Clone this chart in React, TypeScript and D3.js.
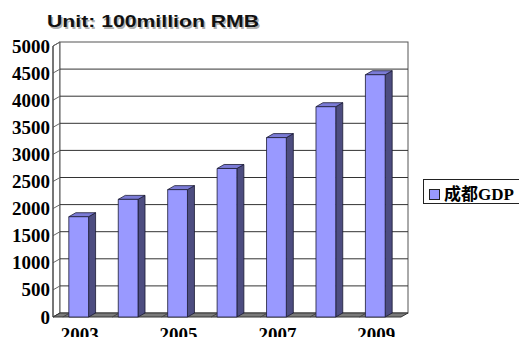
import React from "react";
import * as d3 from "d3";

const years = ["2003", "2004", "2005", "2006", "2007", "2008", "2009"];
const gdp = [1850, 2170, 2350, 2740, 3310, 3880, 4470];
const yTicks = [0, 500, 1000, 1500, 2000, 2500, 3000, 3500, 4000, 4500, 5000];
const shownYears = ["2003", "2005", "2007", "2009"];
const title = "Unit: 100million RMB";
const seriesName = "成都GDP";

const W = 519, H = 337;
const DX = 7, DY = 4;
const x0 = 53, x1 = 401;
const yBottom = 317, yTop = 46;

export default function App() {
  const x = d3.scaleBand<string>().domain(years).range([x0, x1]).paddingInner(0.6).paddingOuter(0.32);
  const y = d3.scaleLinear().domain([0, 5000]).range([yBottom, yTop]);
  const bw = x.bandwidth();
  const serif = "'Liberation Serif', 'Times New Roman', serif";

  return (
    <svg width={W} height={H} style={{ position: "absolute", left: 0, top: 0, background: "#fff" }}>
      {/* title */}
      <text x={48.5} y={28.5} fontFamily="'Liberation Sans', Arial, sans-serif" fontWeight="bold" fontSize={16.5} fill="#b0b0b0" textLength={212} lengthAdjust="spacingAndGlyphs">{title}</text>
      <text x={47} y={27} fontFamily="'Liberation Sans', Arial, sans-serif" fontWeight="bold" fontSize={16.5} fill="#111" textLength={212} lengthAdjust="spacingAndGlyphs">{title}</text>

      {/* left wall */}
      <polygon points={`${x0},${y(5000)} ${x0 + DX},${y(5000) - DY} ${x0 + DX},${yBottom - DY} ${x0},${yBottom}`} fill="#fff" stroke="#555" strokeWidth={1} />
      {/* back wall */}
      <rect x={x0 + DX} y={y(5000) - DY} width={x1 - x0} height={yBottom - y(5000)} fill="#fff" stroke="#555" strokeWidth={1} />
      {/* gridlines + wall ticks */}
      {yTicks.map((t) => (
        <g key={t}>
          {t > 0 && t < 5000 && (
            <line x1={x0 + DX} x2={x1 + DX} y1={y(t) - DY} y2={y(t) - DY} stroke="#333" strokeWidth={1} />
          )}
          <line x1={x0} x2={x0 + DX} y1={y(t)} y2={y(t) - DY} stroke="#666" strokeWidth={1} />
        </g>
      ))}
      {/* floor */}
      <polygon points={`${x0},${yBottom} ${x0 + DX},${yBottom - DY} ${x1 + DX},${yBottom - DY} ${x1},${yBottom}`} fill="#7a7a7a" stroke="#333" strokeWidth={1} />
      {years.map((yr) => (
        <line key={"ft" + yr} x1={(x(yr) as number) - 6} x2={(x(yr) as number) - 6 + DX} y1={yBottom} y2={yBottom - DY} stroke="#444" strokeWidth={1} />
      ))}
      <line x1={x0} x2={x0} y1={y(5000)} y2={yBottom} stroke="#444" strokeWidth={1} />

      {/* bars */}
      {years.map((yr, i) => {
        const bx = x(yr) as number;
        const top = y(gdp[i]);
        return (
          <g key={yr} stroke="#1a1a33" strokeWidth={0.8} strokeLinejoin="round">
            <polygon points={`${bx + bw},${top} ${bx + bw + DX},${top - DY} ${bx + bw + DX},${yBottom - DY} ${bx + bw},${yBottom}`} fill="#4d4d80" />
            <polygon points={`${bx},${top} ${bx + DX},${top - DY} ${bx + bw + DX},${top - DY} ${bx + bw},${top}`} fill="#7b7bd6" />
            <rect x={bx} y={top} width={bw} height={yBottom - top} fill="#9999ff" />
          </g>
        );
      })}

      {/* y tick labels */}
      {yTicks.map((t) => (
        <text key={"l" + t} x={50} y={y(t) + 6.5} textAnchor="end" fontFamily={serif} fontWeight="bold" fontSize={19} fill="#000">{t}</text>
      ))}

      {/* x tick labels */}
      {shownYears.map((yr) => (
        <text key={"x" + yr} x={(x(yr) as number) + bw / 2 + 1} y={341} textAnchor="middle" fontFamily={serif} fontWeight="bold" fontSize={19} fill="#000">{yr}</text>
      ))}

      {/* legend */}
      <rect x={423.5} y={179.5} width={110} height={24} fill="#fff" stroke="#222" strokeWidth={1} />
      <rect x={429.5} y={189.5} width={10} height={10} fill="#9999ff" stroke="#222" strokeWidth={1} />
      <text x={444} y={200} fontFamily={`${serif}, 'Noto Sans CJK SC'`} fontWeight="bold" fontSize={17} fill="#000">{seriesName}</text>
    </svg>
  );
}
